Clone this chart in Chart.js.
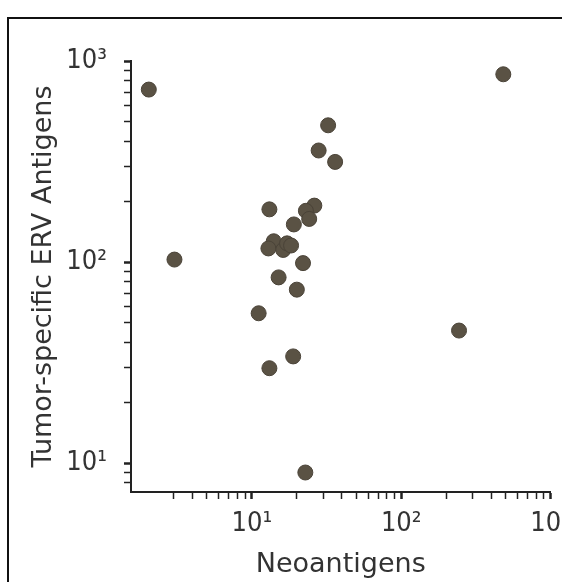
<!DOCTYPE html>
<html>
<head>
<meta charset="utf-8">
<script src="https://cdn.jsdelivr.net/npm/chart.js@4/dist/chart.umd.min.js"></script>
<style>
  html, body { margin: 0; padding: 0; background: #fff; overflow: hidden; }
  body { width: 562px; height: 582px; position: relative; }
  .frame {
    position: absolute; left: 7px; top: 17px;
    width: 700px; height: 700px;
    border-left: 2px solid #111; border-top: 2px solid #111;
  }
  #chart { position: absolute; left: 0; top: 0; }
</style>
</head>
<body>
<div class="frame"></div>
<canvas id="chart" width="620" height="640"></canvas>
<script>
// Data
const neoantigens = [2.04, 3.03, 483, 244, 22.8, 32.4, 28.0, 36.1,
  26.2, 23.0, 24.2, 19.1, 13.1, 14.0, 12.9, 16.2,
  17.2, 18.3, 22.0, 15.1, 20.0, 11.1, 18.9, 13.1];
const ervAntigens = [721, 103, 859, 45.7, 9.0, 479, 359, 315,
  191, 180, 164, 154, 183, 127, 117, 115,
  124, 121, 98.9, 84, 73, 55.7, 34.0, 29.7];
const xRange = [1.55, 1000];
const yRange = [7.2, 1000];
const supers = { '-1': '⁻¹', 0: '⁰', 1: '¹', 2: '²', 3: '³' };

const points = neoantigens.map((x, i) => ({ x: x, y: ervAntigens[i] }));

function isPow10(v) {
  const e = Math.log10(v);
  return Math.abs(e - Math.round(e)) < 1e-9;
}

// keep only 1..9 x 10^n ticks
function cleanTicks(scale) {
  scale.ticks = scale.ticks.filter(t => {
    const m = t.value / Math.pow(10, Math.floor(Math.log10(t.value) + 1e-9));
    return Math.abs(m - Math.round(m)) < 1e-6;
  });
}

function tickLabel(value) {
  if (!isPow10(value)) return '';
  return '10' + supers[Math.round(Math.log10(value))];
}

const tickFont = { family: '"Liberation Sans Narrow", "DejaVu Sans Condensed", sans-serif', size: 27 };
const titleFont = { family: '"DejaVu Sans", sans-serif', size: 27 };
const textColor = '#333';

function axisGrid() {
  return {
    display: true,
    drawOnChartArea: false,
    drawTicks: true,
    tickLength: 7,
    tickColor: '#222',
    tickWidth: ctx => (ctx.tick && isPow10(ctx.tick.value)) ? 2.5 : 1.5
  };
}

new Chart(document.getElementById('chart'), {
  type: 'scatter',
  data: {
    datasets: [{
      data: points,
      pointRadius: 7.5,
      pointBackgroundColor: '#5a5244',
      pointBorderColor: '#4a4338',
      pointBorderWidth: 1
    }]
  },
  options: {
    responsive: false,
    animation: false,
    layout: { padding: { left: 0, top: 61, right: 69.5, bottom: 48 } },
    plugins: { legend: { display: false }, tooltip: { enabled: false } },
    scales: {
      x: {
        type: 'logarithmic',
        min: xRange[0],
        max: xRange[1],
        afterBuildTicks: cleanTicks,
        afterFit: s => { s.height = 100; },
        border: { display: true, color: '#222', width: 2 },
        grid: axisGrid(),
        ticks: {
          autoSkip: false,
          maxRotation: 0,
          padding: 9,
          color: textColor,
          font: tickFont,
          callback: v => tickLabel(v)
        },
        title: {
          display: true,
          text: 'Neoantigens',
          color: textColor,
          font: titleFont,
          padding: { top: 0, bottom: 11 }
        }
      },
      y: {
        type: 'logarithmic',
        min: yRange[0],
        max: yRange[1],
        afterBuildTicks: cleanTicks,
        afterFit: s => { s.width = 131; },
        border: { display: true, color: '#222', width: 2 },
        grid: axisGrid(),
        ticks: {
          autoSkip: false,
          padding: 17,
          color: textColor,
          font: tickFont,
          callback: v => tickLabel(v)
        },
        title: {
          display: true,
          text: 'Tumor-specific ERV Antigens',
          color: textColor,
          font: titleFont,
          padding: { top: 28, bottom: 0 }
        }
      }
    }
  }
});
</script>
</body>
</html>
